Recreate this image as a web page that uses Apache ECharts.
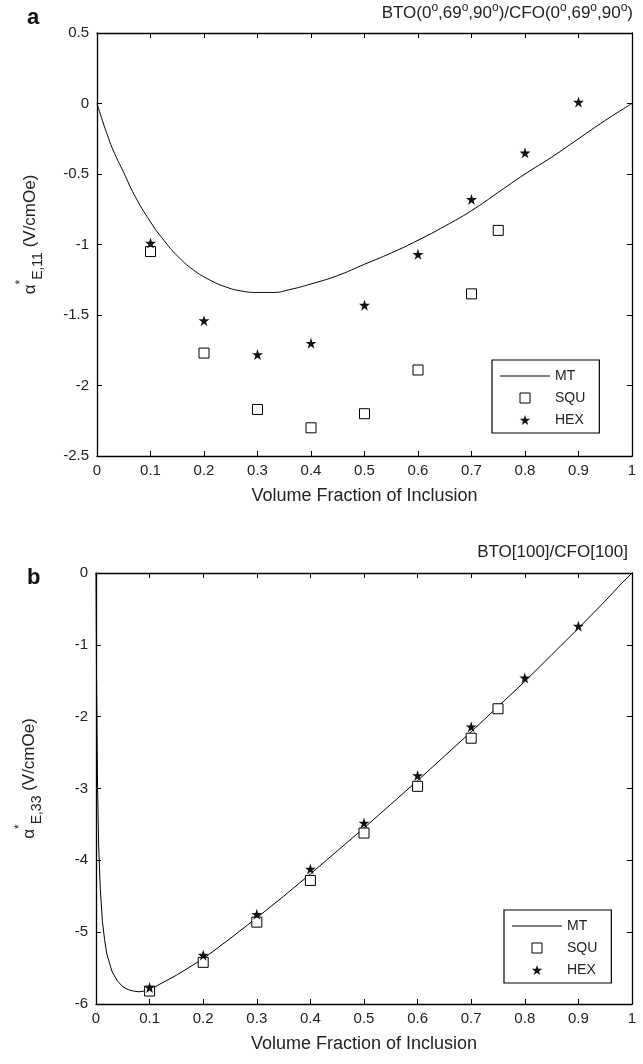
<!DOCTYPE html>
<html>
<head>
<meta charset="utf-8">
<script src="https://cdn.jsdelivr.net/npm/echarts@6/dist/echarts.min.js"></script>
<style>html,body{margin:0;padding:0;background:#fff}#c{width:643px;height:1064px}</style>
</head>
<body>
<div id="c"></div>
<script>
// ---------- Data: panel a ----------
const aMtX = [0,0.01,0.02,0.03,0.05,0.07,0.1,0.125,0.15,0.18,0.21,0.24,0.27,0.3,0.33,0.36,0.4,0.45,0.5,0.55,0.6,0.65,0.7,0.75,0.8,0.85,0.9,0.95,1.0];
const aMtY = [0,-0.12,-0.23,-0.33,-0.49,-0.65,-0.84,-0.97,-1.08,-1.18,-1.25,-1.30,-1.33,-1.34,-1.34,-1.32,-1.28,-1.22,-1.14,-1.06,-0.97,-0.87,-0.76,-0.63,-0.50,-0.38,-0.25,-0.12,0];
const aSquX = [0.1,0.2,0.3,0.4,0.5,0.6,0.7,0.75];
const aSquY = [-1.05,-1.77,-2.17,-2.30,-2.20,-1.89,-1.35,-0.90];
const aHexX = [0.1,0.2,0.3,0.4,0.5,0.6,0.7,0.8,0.9];
const aHexY = [-0.99,-1.54,-1.78,-1.70,-1.43,-1.07,-0.68,-0.35,0.01];
// ---------- Data: panel b ----------
const bMtX = [0,0.001,0.003,0.005,0.008,0.012,0.016,0.02,0.03,0.04,0.05,0.06,0.07,0.08,0.09,0.1,0.15,0.2,0.25,0.3,0.35,0.4,0.45,0.5,0.55,0.6,0.65,0.7,0.75,0.8,0.85,0.9,0.95,0.98,1.0];
const bMtY = [0,-1.5,-3.0,-3.8,-4.4,-4.85,-5.1,-5.3,-5.55,-5.68,-5.76,-5.80,-5.82,-5.83,-5.82,-5.80,-5.60,-5.37,-5.09,-4.80,-4.50,-4.19,-3.87,-3.55,-3.22,-2.89,-2.55,-2.21,-1.86,-1.51,-1.14,-0.77,-0.39,-0.15,0];
const bSquX = [0.1,0.2,0.3,0.4,0.5,0.6,0.7,0.75];
const bSquY = [-5.82,-5.42,-4.86,-4.28,-3.62,-2.97,-2.30,-1.89];
const bHexX = [0.1,0.2,0.3,0.4,0.5,0.6,0.7,0.8,0.9];
const bHexY = [-5.77,-5.32,-4.75,-4.12,-3.48,-2.82,-2.14,-1.46,-0.74];
// ---------- Axis ticks ----------
const xTicks = {min:0, max:1, interval:0.1};
const aYTicks = {min:-2.5, max:0.5, interval:0.5};
const bYTicks = {min:-6, max:0, interval:1};
const titleA = 'BTO(0{s|o},69{s|o},90{s|o})/CFO(0{s|o},69{s|o},90{s|o})';
const titleB = 'BTO[100]/CFO[100]';
const xName = 'Volume Fraction of Inclusion';
const yNameA = '{g|α}{sup|*}{sub|E,11}{g| (V/cmOe)}';
const yNameB = '{g|α}{sup|*}{sub|E,33}{g| (V/cmOe)}';
const legendNames = ['MT', 'SQU', 'HEX'];

const FONT = '"Liberation Sans", Arial, Helvetica, sans-serif';
const STAR = 'path://M100,0 L122.45,69.1 L195.1,69.1 L136.3,111.8 L158.8,180.9 L100,138.2 L41.2,180.9 L63.7,111.8 L4.9,69.1 L77.55,69.1 Z';
const SQUARE = 'path://M0,0 L10,0 L10,10 L0,10 Z';
const LINEICON = 'path://M0,0 L50,0 L50,1 L0,1 Z';
const zip = (xs, ys) => xs.map((x, i) => [x, ys[i]]);

const yRich = {
  g: {fontSize: 17, fontFamily: FONT, color: '#222', lineHeight: 30, verticalAlign: 'middle'},
  sup: {fontSize: 12, fontFamily: FONT, color: '#222', lineHeight: 30, verticalAlign: 'top'},
  sub: {fontSize: 14, fontFamily: FONT, color: '#222', lineHeight: 30, verticalAlign: 'bottom'}
};

function xAx(grid, pos, withLabels) {
  return Object.assign({
    type: 'value', gridIndex: grid, position: pos,
    axisLine: {show: true, onZero: false, lineStyle: {color: '#000', width: 1.3}},
    axisTick: {show: true, inside: true, length: 5, lineStyle: {color: '#000'}},
    axisLabel: {show: withLabels, color: '#222', fontSize: 15, fontFamily: FONT, margin: 7},
    splitLine: {show: false},
    name: withLabels ? xName : '', nameLocation: 'middle', nameGap: 31,
    nameTextStyle: {fontSize: 18, fontFamily: FONT, color: '#222'}
  }, xTicks);
}
function yAx(grid, pos, withLabels, ticks, nm) {
  return Object.assign({
    type: 'value', gridIndex: grid, position: pos,
    axisLine: {show: true, onZero: false, lineStyle: {color: '#000', width: 1.3}},
    axisTick: {show: true, inside: true, length: 5, lineStyle: {color: '#000'}},
    axisLabel: {show: withLabels, color: '#222', fontSize: 15, fontFamily: FONT, margin: 8},
    splitLine: {show: false},
    name: withLabels ? nm : '', nameLocation: 'middle', nameGap: 52, nameRotate: 90,
    nameTextStyle: {rich: yRich, padding: [0, 0, 0, 20]}
  }, ticks);
}
function mt(xi, yi, xs, ys, smooth) {
  return {name: 'MT', type: 'line', xAxisIndex: xi, yAxisIndex: yi, data: zip(xs, ys),
    showSymbol: false, symbol: 'none', smooth: smooth, lineStyle: {color: '#000', width: 1}, itemStyle: {color: '#000'}, z: 2};
}
function squ(xi, yi, xs, ys) {
  return {name: 'SQU', type: 'scatter', xAxisIndex: xi, yAxisIndex: yi, data: zip(xs, ys),
    symbol: SQUARE, symbolSize: 10, itemStyle: {color: '#fff', borderColor: '#000', borderWidth: 1, opacity: 1}, z: 3};
}
function hex(xi, yi, xs, ys) {
  return {name: 'HEX', type: 'scatter', xAxisIndex: xi, yAxisIndex: yi, data: zip(xs, ys),
    symbol: STAR, symbolSize: 11, itemStyle: {color: '#111', opacity: 1}, z: 4};
}
function legend(left, top) {
  return {orient: 'vertical', left: left, top: top,
    data: [
      {name: legendNames[0], icon: LINEICON, itemStyle: {color: '#000', borderWidth: 0}},
      {name: legendNames[1], icon: SQUARE, itemStyle: {color: '#fff', borderColor: '#000', borderWidth: 1}},
      {name: legendNames[2], icon: STAR, itemStyle: {color: '#111', borderWidth: 0}}
    ],
    itemWidth: 50, itemHeight: 10, itemGap: 8, padding: [9, 14, 6, 8],
    borderColor: '#000', borderWidth: 1.2, backgroundColor: '#fff', symbolKeepAspect: true,
    textStyle: {fontSize: 14, fontFamily: FONT, color: '#222'}, selectedMode: false};
}

const chart = echarts.init(document.getElementById('c'), null, {renderer: 'canvas'});
chart.setOption({
  animation: false,
  backgroundColor: '#fff',
  title: [
    {text: titleA, right: 10, top: 2, padding: 0,
      textStyle: {fontSize: 17, fontWeight: 'normal', fontFamily: FONT, color: '#222',
        rich: {s: {fontSize: 12, fontFamily: FONT, color: '#222', verticalAlign: 'top', lineHeight: 22}}}},
    {text: 'a', left: 27, top: 7, padding: 0, textStyle: {fontSize: 22, fontWeight: 'bold', fontFamily: FONT, color: '#111'}},
    {text: titleB, right: 15, top: 544, padding: 0, textStyle: {fontSize: 17, fontWeight: 'normal', fontFamily: FONT, color: '#222'}},
    {text: 'b', left: 27, top: 567, padding: 0, textStyle: {fontSize: 22, fontWeight: 'bold', fontFamily: FONT, color: '#111'}}
  ],
  grid: [
    {left: 97, top: 33, width: 535, height: 423},
    {left: 96, top: 573, width: 536, height: 431}
  ],
  xAxis: [xAx(0, 'bottom', true), xAx(0, 'top', false), xAx(1, 'bottom', true), xAx(1, 'top', false)],
  yAxis: [yAx(0, 'left', true, aYTicks, yNameA), yAx(0, 'right', false, aYTicks, ''),
          yAx(1, 'left', true, bYTicks, yNameB), yAx(1, 'right', false, bYTicks, '')],
  legend: [legend(492, 360), legend(504, 910)],
  series: [
    mt(0, 0, aMtX, aMtY, true), squ(0, 0, aSquX, aSquY), hex(0, 0, aHexX, aHexY),
    mt(2, 2, bMtX, bMtY, false), squ(2, 2, bSquX, bSquY), hex(2, 2, bHexX, bHexY)
  ]
});
</script>
</body>
</html>
